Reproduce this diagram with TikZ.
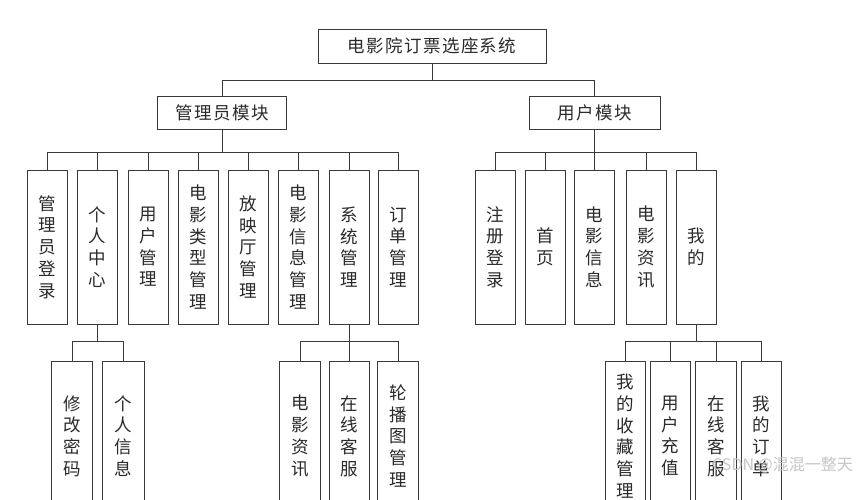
\documentclass[tikz,border=0pt]{standalone}
\usepackage{fontspec}
\newfontfamily\cjk{Noto Sans CJK SC}
\newfontfamily\cjkwide[LetterSpace=8]{Noto Sans CJK SC}
\definecolor{lc}{HTML}{3A3A3A}
\definecolor{tc}{HTML}{2A2A2A}
\tikzset{
  hbox/.style={draw=lc, line width=0.9pt, inner sep=0pt, text=tc,
    font=\cjkwide\fontsize{17.5}{21}\selectfont},
  vbox/.style={draw=lc, line width=0.9pt, inner sep=0pt, text=tc, align=center,
    minimum width=40pt, font=\cjk\fontsize{17.5}{21.7}\selectfont},
  lvtwo/.style={vbox, minimum height=154pt},
  lvthree/.style={vbox, minimum height=150pt},
  conn/.style={draw=lc, line width=0.9pt},
  wm/.style={text=gray!45, font=\cjk\fontsize{16}{18}\selectfont, inner sep=0pt, anchor=west}
}
\begin{document}
\begin{tikzpicture}[x=1pt,y=-1pt]
\useasboundingbox (0,0) rectangle (863,499);
\fill[white] (0,0) rectangle (863,499);
\clip (0,0) rectangle (863,499);
% top
\node[hbox, minimum width=228pt, minimum height=34pt] (top) at (432,46) {电影院订票选座系统};
\node[hbox, minimum width=129pt, minimum height=33pt] (adm) at (222,113) {管理员模块};
\node[hbox, minimum width=131pt, minimum height=33pt] (usr) at (594.7,112.5) {用户模块};
\coordinate (b0) at (0,80.7);
\coordinate (b1) at (0,152.7);
\coordinate (b2) at (0,341.7);
% admin children
\node[lvtwo] (a1) at (47.7,247) {管\\理\\员\\登\\录};
\node[lvtwo] (a2) at (97.5,247) {个\\人\\中\\心};
\node[lvtwo] (a3) at (148.7,247) {用\\户\\管\\理};
\node[lvtwo] (a4) at (198.7,247) {电\\影\\类\\型\\管\\理};
\node[lvtwo] (a5) at (248.5,247) {放\\映\\厅\\管\\理};
\node[lvtwo] (a6) at (298,247) {电\\影\\信\\息\\管\\理};
\node[lvtwo] (a7) at (349.5,247) {系\\统\\管\\理};
\node[lvtwo] (a8) at (398,247) {订\\单\\管\\理};
% user children
\node[lvtwo] (u1) at (495,247) {注\\册\\登\\录};
\node[lvtwo] (u2) at (545,247) {首\\页};
\node[lvtwo] (u3) at (594.7,247) {电\\影\\信\\息};
\node[lvtwo] (u4) at (646,247) {电\\影\\资\\讯};
\node[lvtwo] (u5) at (696,247) {我\\的};
% third level
\node[lvthree, minimum width=41pt] (c1) at (72,436) {修\\改\\密\\码};
\node[lvthree, minimum width=42pt] (c2) at (123,436) {个\\人\\信\\息};
\node[lvthree, minimum width=41pt] (s1) at (300,436) {电\\影\\资\\讯};
\node[lvthree] (s2) at (349.5,436) {在\\线\\客\\服};
\node[lvthree, minimum width=41pt] (s3) at (398,436) {轮\\播\\图\\管\\理};
\node[lvthree] (m1) at (625,436) {我\\的\\收\\藏\\管\\理};
\node[lvthree] (m2) at (670.7,436) {用\\户\\充\\值};
\node[lvthree, minimum width=41pt] (m3) at (716,436) {在\\线\\客\\服};
\node[lvthree] (m4) at (761,436) {我\\的\\订\\单};
% connectors level 1
\foreach \c in {adm,usr}
  \draw[conn] (top.south) |- (\c.north |- b0) -- (\c.north);
% admin
\foreach \c in {a1,a2,a3,a4,a5,a6,a7,a8}
  \draw[conn] (adm.south) |- (\c.north |- b1) -- (\c.north);
% user
\foreach \c in {u1,u2,u3,u4,u5}
  \draw[conn] (usr.south) |- (\c.north |- b1) -- (\c.north);
% third level
\foreach \c in {c1,c2}
  \draw[conn] (a2.south) |- (\c.north |- b2) -- (\c.north);
\foreach \c in {s1,s2,s3}
  \draw[conn] (a7.south) |- (\c.north |- b2) -- (\c.north);
\foreach \c in {m1,m2,m3,m4}
  \draw[conn] (u5.south) |- (\c.north |- b2) -- (\c.north);
% watermark
\node[wm] (wmk) at (712,465) {CSDN @混混一整天};
\end{tikzpicture}
\end{document}
